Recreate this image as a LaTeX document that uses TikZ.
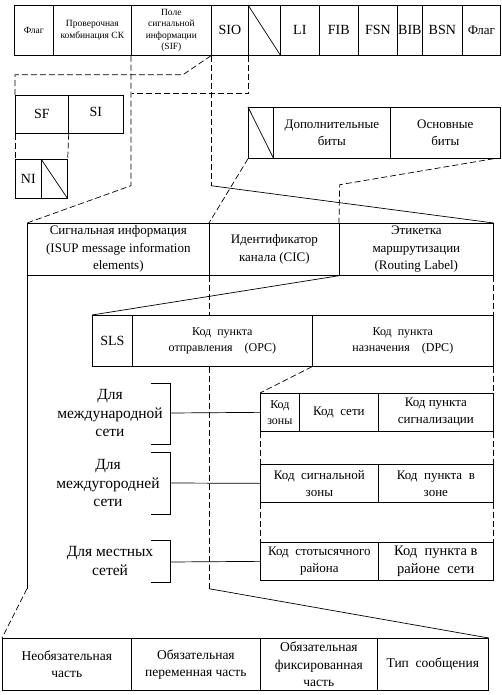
\documentclass[tikz,border=0pt]{standalone}
\usepackage{fontspec}
\setmainfont{Liberation Serif}
\usetikzlibrary{calc}
\tikzset{
  cell/.style={draw, anchor=north west, inner sep=0pt, align=center, font=\fontsize{13}{17.5}\selectfont},
  sz/.style 2 args={minimum width=#1pt, minimum height=#2pt},
  fsmall/.style={font=\fontsize{9.5}{11.5}\selectfont},
  fcode/.style={font=\fontsize{14}{17}\selectfont},
  fmid/.style={font=\fontsize{12}{16}\selectfont},
  fmidb/.style={font=\fontsize{13}{17}\selectfont},
  fwide/.style={font=\fontsize{14.5}{18.5}\selectfont},
  flarge/.style={font=\fontsize{15.5}{18.5}\selectfont},
  fbot/.style={font=\fontsize{13.5}{17.5}\selectfont},
  dsh/.style={dash pattern=on 6pt off 3pt}}

\begin{document}
\begin{tikzpicture}[x=1pt,y=-1pt,line width=0.7pt]
\useasboundingbox (0,0) rectangle (502,695);
% signal unit
\node[cell,fsmall,sz={39}{50}] (flagl) at (14,5) {Флаг};
\node[cell,fsmall,sz={78}{50}] (crc) at (53,5) {Проверочная\\комбинация СК};
\node[cell,fsmall,sz={80}{50}] (sif) at (131,5) {Поле\\сигнальной\\информации\\(SIF)};
\node[cell,fcode,sz={37}{50}] (sio) at (211,5) {SIO};
\node[cell,sz={32}{50}] (spare) at (248,5) {};
\node[cell,fcode,sz={39}{50}] (li) at (280,5) {LI};
\node[cell,fcode,sz={39}{50}] (fib) at (319,5) {FIB};
\node[cell,fcode,sz={39}{50}] (fsn) at (358,5) {FSN};
\node[cell,fcode,sz={25}{50}] (bib) at (397,5) {BIB};
\node[cell,fcode,sz={40}{50}] (bsn) at (422,5) {BSN};
\node[cell,sz={38}{50}] (flagr) at (462,5) {Флаг};
\draw (spare.north west) -- (spare.south east);
% SIO
\node[cell,fcode,sz={53}{38}] (sf) at (15,95) {SF};
\node[cell,fcode,sz={55}{38}] (si) at (68,95) {\raisebox{4pt}{SI}};
\node[cell,fcode,sz={26}{39}] (ni) at (15,159) {NI};
\node[cell,sz={26}{39}] (nisp) at (41,159) {};
\draw (nisp.north west) -- (nisp.south east);
% bits
\node[cell,sz={25}{51}] (bsp) at (248,107) {};
\node[cell,sz={117}{51}] (dop) at (273,107) {Дополнительные\\биты};
\node[cell,sz={110}{51}] (osn) at (390,107) {Основные\\биты};
\draw (bsp.north west) -- (bsp.south east);
% ISUP message
\node[cell,sz={182}{52}] (sig) at (27,223) {Сигнальная информация\\(ISUP message information\\elements)};
\node[cell,sz={130}{52}] (cic) at (209,223) {Идентификатор\\канала (CIC)};
\node[cell,sz={154}{52}] (rl) at (339,223) {Этикетка\\маршрутизации\\(Routing Label)};
% routing label
\node[cell,fcode,sz={40}{51}] (sls) at (92,315) {SLS};
\node[cell,fmid,sz={180}{51}] (opc) at (132,315) {Код\enspace пункта\\отправления\quad(OPC)};
\node[cell,fmid,sz={181}{51}] (dpc) at (312,315) {Код\enspace пункта\\назначения\quad(DPC)};
% point codes
\node[cell,fmid,sz={39}{38}] (zone) at (260,393) {Код\\зоны};
\node[cell,fmidb,sz={79}{38}] (net) at (299,393) {Код\enspace сети};
\node[cell,fmidb,sz={115}{38}] (sigp) at (378,393) {Код пункта\\сигнализации};
\node[cell,fmidb,sz={118}{38}] (szone) at (260,464) {Код\enspace сигнальной\\зоны};
\node[cell,fmidb,sz={115}{38}] (pzone) at (378,464) {Код\enspace пункта\enspace в\\зоне};
\node[cell,fmidb,sz={118}{38}] (area) at (260,542) {Код\enspace стотысячного\\района};
\node[cell,fwide,sz={115}{38}] (parea) at (378,542) {Код\enspace пункта в\\районе\enspace сети};
% message parts
\node[cell,fbot,sz={129}{52}] (opt) at (2,638) {Необязательная\\часть};
\node[cell,fbot,sz={129}{52}] (mvar) at (131,638) {Обязательная\\переменная часть};
\node[cell,fbot,sz={117}{52}] (mfix) at (260,638) {Обязательная\\фиксированная\\часть};
\node[cell,fbot,sz={111}{52}] (mtype) at (377,638) {Тип\enspace сообщения};
% networks
\node[flarge,align=center] (intl) at (110,413) {Для\\международной\\сети};
\node[flarge,align=center] (trunk) at (108,483) {Для\\междугородней\\сети};
\node[flarge,align=center] (local) at (110,561) {Для местных\\сетей};
\coordinate (br1) at (170,413);
\coordinate (br2) at (170,483);
\coordinate (br3) at (170,562);
\draw (br1) ++(-19,-30) -- ++(19,0) -- ++(0,61) -- ++(-19,0);
\draw (br2) ++(-19,-31) -- ++(19,0) -- ++(0,62) -- ++(-19,0);
\draw (br3) ++(-19,-22) -- ++(19,0) -- ++(0,42) -- ++(-19,0);
\draw (br1) -- (zone.west);
\draw (br2) -- (szone.west);
\draw (br3) -- (area.west);
% connectors
\draw[dsh] (sif.south west) -- ++(0,130) -- (sig.north west);
\draw[dsh] (sio.south west) -- ++(-28,19) -| (sf.north west);
\draw[dsh] (sio.south east) -- ++(0,38) -- ++(-117,0);
\draw[dsh] (sio.south west) -- ++(0,130) coordinate (sioend);
\draw (sioend) -- (rl.north east);
\draw[dsh] (sf.south west) -- (ni.north west);
\draw[dsh] (sf.south east) -- (nisp.north east);
\draw[dsh] (bsp.south west) -- (cic.north west);
\draw[dsh] (osn.south east -| rl.north east) -- ++(-154,26) -- (rl.north west);
\draw (rl.south west) -- (sls.north west);
\draw[dsh] (rl.south east) -- (dpc.north east);
\draw[dsh] (dpc.south east) -- (sigp.north east);
\draw[dsh] (sigp.south east) -- (pzone.north east);
\draw[dsh] (pzone.south east) -- (parea.north east);
\draw[dsh] (zone.south west) -- (szone.north west);
\draw[dsh] (szone.south west) -- (area.north west);
\draw[dsh] (dpc.south west) -- (zone.north west);
\draw[dsh] (cic.south west) -- (cic.south west |- sls.north west);
\draw[dsh] (cic.south west |- sls.south west) -- ++(0,222) coordinate (cicend);
\draw (cicend) -- (mtype.north east);
\draw (sig.south west) -- ++(0,313) coordinate (sigend);
\draw[dsh] (sigend) -- (opt.north west);
\end{tikzpicture}
\end{document}
